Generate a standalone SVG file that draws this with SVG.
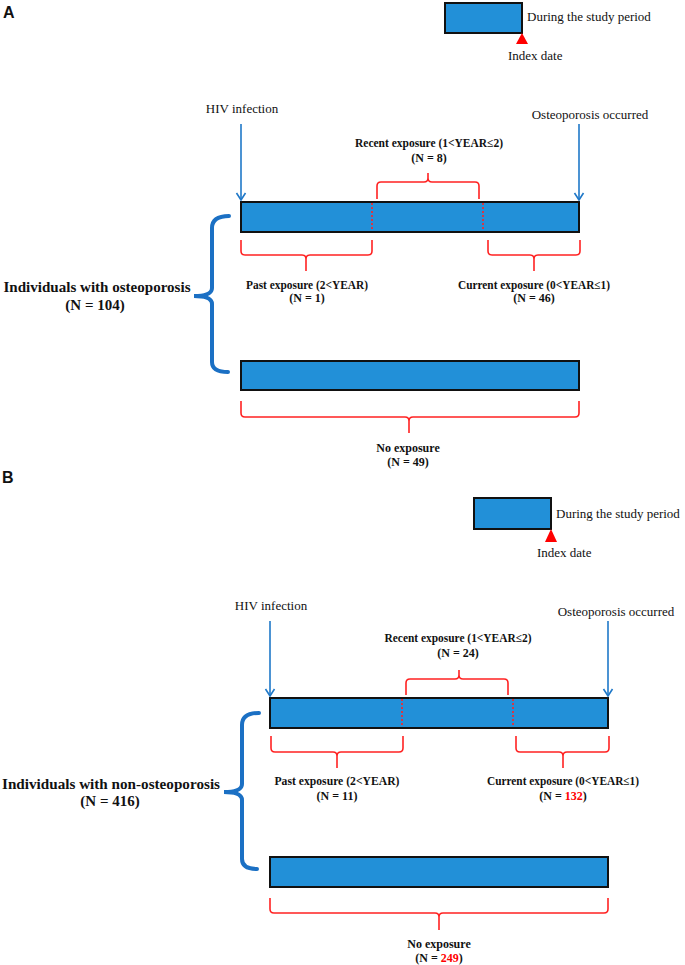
<svg xmlns="http://www.w3.org/2000/svg" width="685" height="965" viewBox="0 0 685 965">
<style>
.bar{fill:#2290d8;stroke:#111;stroke-width:2}
.t{font-family:"Liberation Serif","Times New Roman",serif;font-size:13px;fill:#111}
.b{font-family:"Liberation Serif","Times New Roman",serif;font-size:12px;font-weight:bold;fill:#111;text-anchor:middle}
.big{font-family:"Liberation Serif","Times New Roman",serif;font-size:15px;font-weight:bold;fill:#111;text-anchor:middle}
.lab{font-family:"Liberation Sans",Arial,sans-serif;font-size:16px;font-weight:bold;fill:#111}
.rb{fill:none;stroke:#f22;stroke-width:1.6}
.dot{stroke:#f22;stroke-width:1.6;stroke-dasharray:2 2}
.arr{stroke:#1f78c8;stroke-width:1.6;fill:none}
.bb{fill:none;stroke:#1b70c4;stroke-width:4;stroke-linecap:round}
.red{fill:#f00}
</style>
<defs>
<marker id="ah" markerWidth="12" markerHeight="12" refX="10" refY="6" orient="auto" markerUnits="userSpaceOnUse" viewBox="0 0 12 12">
<path d="M3,1.5 L10,6 L3,10.5" fill="none" stroke="#1f78c8" stroke-width="1.6"/>
</marker>
</defs>

<!-- Panel A -->
<text class="lab" x="3" y="18">A</text>
<g id="legendA">
<rect class="bar" x="445" y="3" width="77" height="30"/>
<text class="t" x="527" y="21">During the study period</text>
<polygon points="522,33 516,44 528,44" fill="#f00"/>
<text class="t" x="508" y="60">Index date</text>
</g>
<g id="hivA"><text class="t" x="242" y="113" text-anchor="middle">HIV infection</text></g>
<g id="osteoA"><text class="t" x="590" y="119" text-anchor="middle">Osteoporosis occurred</text></g>
<g id="barA1">
<rect class="bar" x="241" y="202" width="338" height="30"/>
<line class="dot" x1="372" y1="203" x2="372" y2="231"/>
<line class="dot" x1="483" y1="203" x2="483" y2="231"/>
</g>
<g id="recentA">
<path class="rb" d="M377,199 V186 Q377,182 381,182 H424 Q428,182 428,178 V173 M428,178 Q428,182 432,182 H475 Q479,182 479,186 V199"/>
<text class="b" x="429" y="147" textLength="148" lengthAdjust="spacingAndGlyphs">Recent exposure  (1&lt;YEAR≤2)</text>
<text class="b" x="429" y="162">(N = 8)</text>
</g>
<g id="pastA">
<path class="rb" d="M241,240 V251 Q241,255 245,255 H302 Q306,255 306,259 V271 M306,259 Q306,255 310,255 H368 Q372,255 372,251 V240"/>
<text class="b" x="307" y="289" textLength="122" lengthAdjust="spacingAndGlyphs">Past exposure  (2&lt;YEAR)</text>
<text class="b" x="307" y="302">(N = 1)</text>
</g>
<g id="currentA">
<path class="rb" d="M488,240 V251 Q488,255 492,255 H530 Q534,255 534,259 V271 M534,259 Q534,255 538,255 H576 Q580,255 580,251 V240"/>
<text class="b" x="534" y="289" textLength="152" lengthAdjust="spacingAndGlyphs">Current  exposure (0&lt;YEAR≤1)</text>
<text class="b" x="534" y="302">(N = 46)</text>
</g>
<g id="groupA">
<path class="bb" d="M229,216 Q212,216 212,228 V288 Q212,296 194,296 Q212,296 212,304 V362 Q212,372 228,372"/>
<text class="big" x="97" y="292" textLength="187" lengthAdjust="spacingAndGlyphs">Individuals  with  osteoporosis</text>
<text class="big" x="95" y="310">(N = 104)</text>
</g>
<g id="barA2"><rect class="bar" x="241" y="361" width="338" height="29"/></g>
<g id="noneA">
<path class="rb" d="M241,401 V413 Q241,417 245,417 H405 Q409,417 409,421 V433 M409,421 Q409,417 413,417 H575 Q579,417 579,413 V401"/>
<text class="b" x="408" y="452">No exposure</text>
<text class="b" x="408" y="466">(N = 49)</text>
</g>

<!-- Panel B -->
<text class="lab" x="2" y="483">B</text>
<g id="legendB">
<rect class="bar" x="474" y="498" width="77" height="31"/>
<text class="t" x="556" y="518">During the study period</text>
<polygon points="551,529 545,542 557,542" fill="#f00"/>
<text class="t" x="537" y="557">Index date</text>
</g>
<g id="hivB"><text class="t" x="271" y="610" text-anchor="middle">HIV infection</text></g>
<g id="osteoB"><text class="t" x="616" y="616" text-anchor="middle">Osteoporosis occurred</text></g>
<g id="barB1">
<rect class="bar" x="270" y="698" width="338" height="30"/>
<line class="dot" x1="402" y1="699" x2="402" y2="727"/>
<line class="dot" x1="513" y1="699" x2="513" y2="727"/>
</g>
<g id="recentB">
<path class="rb" d="M406,695 V683 Q406,679 410,679 H455 Q459,679 459,675 V670 M459,675 Q459,679 463,679 H504 Q508,679 508,683 V695"/>
<text class="b" x="458" y="642" textLength="147" lengthAdjust="spacingAndGlyphs">Recent exposure  (1&lt;YEAR≤2)</text>
<text class="b" x="458" y="657">(N = 24)</text>
</g>
<g id="pastB">
<path class="rb" d="M271,736 V748 Q271,752 275,752 H333 Q337,752 337,756 V768 M337,756 Q337,752 341,752 H399 Q403,752 403,748 V736"/>
<text class="b" x="337" y="785" textLength="125" lengthAdjust="spacingAndGlyphs">Past exposure  (2&lt;YEAR)</text>
<text class="b" x="337" y="800">(N = 11)</text>
</g>
<g id="currentB">
<path class="rb" d="M516,736 V748 Q516,752 520,752 H559 Q563,752 563,756 V768 M563,756 Q563,752 567,752 H605 Q609,752 609,748 V736"/>
<text class="b" x="563" y="785" textLength="152" lengthAdjust="spacingAndGlyphs">Current  exposure (0&lt;YEAR≤1)</text>
<text class="b" x="563" y="800">(N = <tspan class="red">132</tspan>)</text>
</g>
<g id="groupB">
<path class="bb" d="M259,713 Q242,713 242,725 V784 Q242,792 224,792 Q242,792 242,800 V859 Q242,869 257,869"/>
<text class="big" x="111" y="789" textLength="218" lengthAdjust="spacingAndGlyphs">Individuals  with  non-osteoporosis</text>
<text class="big" x="110" y="806">(N = 416)</text>
</g>
<g id="barB2"><rect class="bar" x="270" y="857" width="338" height="30"/></g>
<g id="noneB">
<path class="rb" d="M270,898 V909 Q270,913 274,913 H435 Q439,913 439,917 V930 M439,917 Q439,913 443,913 H604 Q608,913 608,909 V898"/>
<text class="b" x="439" y="948">No exposure</text>
<text class="b" x="439" y="962">(N = <tspan class="red">249</tspan>)</text>
</g>

<g id="connectors">
<line class="arr" x1="241" y1="124" x2="241" y2="200" marker-end="url(#ah)"/>
<line class="arr" x1="579" y1="124" x2="579" y2="200" marker-end="url(#ah)"/>
<line class="arr" x1="270" y1="621" x2="270" y2="696" marker-end="url(#ah)"/>
<line class="arr" x1="608" y1="621" x2="608" y2="696" marker-end="url(#ah)"/>
</g>
</svg>
